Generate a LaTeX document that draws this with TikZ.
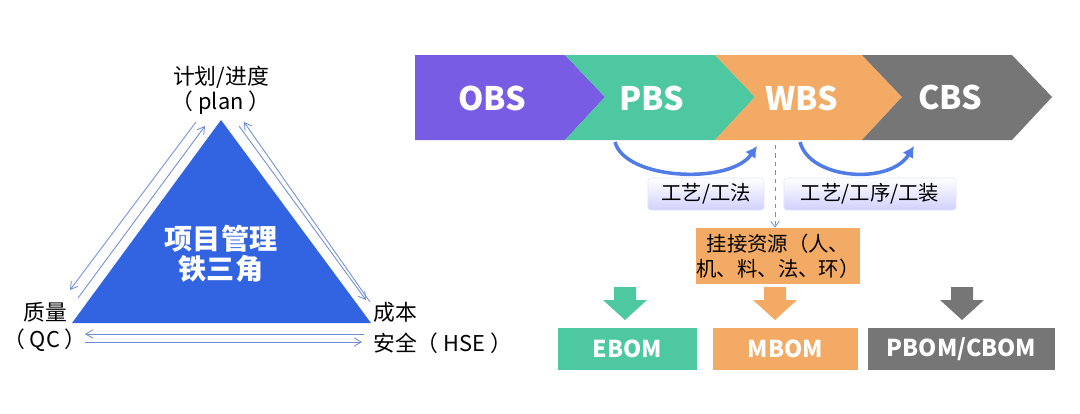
\documentclass[tikz,border=0pt]{standalone}
\usepackage{fontspec}
\setmainfont{Noto Sans CJK SC}
\usetikzlibrary{arrows.meta}
\definecolor{tri}{RGB}{50,100,225}
\definecolor{obs}{RGB}{120,92,228}
\definecolor{pbs}{RGB}{78,200,160}
\definecolor{wbs}{RGB}{242,170,100}
\definecolor{cbs}{RGB}{118,118,118}
\definecolor{ln}{RGB}{110,140,210}
\begin{document}
\begin{tikzpicture}[x=0.025cm,y=-0.025cm,
 thin arr/.style={draw=ln,line width=0.6pt,-{Straight Barb[length=5pt,width=6pt]}},
 lbl/.style={font=\fontsize{15.5}{17}\selectfont,inner sep=0},
 chev/.style={font=\fontsize{23}{25}\selectfont\bfseries,text=white},
 bom/.style={minimum width=#1,minimum height=1.07cm,inner sep=0,font=\fontsize{16.5}{18}\selectfont\bfseries,text=white},
 tool/.style={rounded corners=2pt,top color=white,bottom color=blue!18,draw=blue!10,minimum height=0.8cm,font=\fontsize{14.5}{16}\selectfont},
 loop arr/.style={draw=tri!85,line width=2.5pt,-{Latex[length=8pt,width=9pt]}}]
\useasboundingbox (0,0) rectangle (1080,414);
% triangle
\fill[tri] (221,120) coordinate (A) -- (72,323) coordinate (B) -- (371,323) coordinate (C) -- cycle;
\node[font=\fontsize{20}{23}\selectfont\bfseries,text=white,align=center] (core) at (221,254) {项目管理\\[-2pt]铁三角};
\coordinate (l1s) at (196,122); \coordinate (l1e) at (70,290);
\coordinate (l2s) at (78,298); \coordinate (l2e) at (205,126);
\coordinate (r1s) at (370,302); \coordinate (r1e) at (244,122);
\coordinate (r2s) at (239,126); \coordinate (r2e) at (366,300);
\coordinate (b1s) at (364,334); \coordinate (b1e) at (85,334);
\coordinate (b2s) at (85,342); \coordinate (b2e) at (362,342);
\draw[thin arr] (l1s) -- (l1e);
\draw[thin arr] (l2s) -- (l2e);
\draw[thin arr] (r1s) -- (r1e);
\draw[thin arr] (r2s) -- (r2e);
\draw[thin arr] (b1s) -- (b1e);
\draw[thin arr] (b2s) -- (b2e);
\node[lbl] (t1) at (221,77) {计划/进度};
\node[lbl] (t2) at (221,103) {（ plan ）};
\node[lbl] (q1) at (45,312) {质量};
\node[lbl] (q2) at (45,340) {（ QC ）};
\node[lbl,anchor=west] (c1) at (373,312) {成本};
\node[lbl,anchor=west] (c2) at (373,343) {安全（ HSE ）};
% chevrons
\fill[obs] (415,55) -- (565,55) -- (605,97) -- (565,140) -- (415,140) -- cycle;
\fill[pbs] (565,55) -- (715,55) -- (755,97) -- (715,140) -- (565,140) -- (605,97) -- cycle;
\fill[wbs] (715,55) -- (862,55) -- (902,97) -- (862,140) -- (715,140) -- (755,97) -- cycle;
\fill[cbs] (862,55) -- (1012,55) -- (1052,97) -- (1012,140) -- (862,140) -- (902,97) -- cycle;
\node[chev] (obsT) at (492,98) {OBS};
\node[chev] (pbsT) at (652,98) {PBS};
\node[chev] (wbsT) at (802,98) {WBS};
\node[chev] (cbsT) at (950,97) {CBS};
% bend arrows
\coordinate (a1s) at (615,142); \coordinate (a1e) at (757,146);
\coordinate (a2s) at (800,142); \coordinate (a2e) at (914,146);
\draw[loop arr] (a1s) .. controls (625,180) and (730,185) .. (a1e);
\draw[loop arr] (a2s) .. controls (810,180) and (890,185) .. (a2e);
\node[tool,minimum width=2.9cm] (g1) at (706,194) {工艺/工法};
\node[tool,minimum width=4.3cm] (g2) at (870,194) {工艺/工序/工装};
\node[fill=wbs,minimum width=3.95cm,minimum height=1.4cm,align=center,font=\fontsize{14.5}{18}\selectfont,inner sep=0] (res) at (778,256) {挂接资源（人、\\机、料、法、环）};
\coordinate (ds) at (775,145);
\draw[ln,dashed,line width=0.6pt,-{Straight Barb[length=4pt,width=6pt]}] (ds) -- (res.north -| ds);
% block arrows
\foreach \x/\c in {625/pbs,775/wbs,962/cbs}{
 \fill[\c] (\x-11,287) -- (\x+11,287) -- (\x+11,300) -- (\x+22,300) -- (\x,320) -- (\x-22,300) -- (\x-11,300) -- cycle;}
\node[bom=3.48cm,fill=pbs] (ebom) at (627.5,349) {EBOM};
\node[bom=3.63cm,fill=wbs] (mbom) at (785.5,349) {MBOM};
\node[bom=4.68cm,fill=cbs] (pbom) at (961.5,349) {PBOM/CBOM};
\end{tikzpicture}
\end{document}
